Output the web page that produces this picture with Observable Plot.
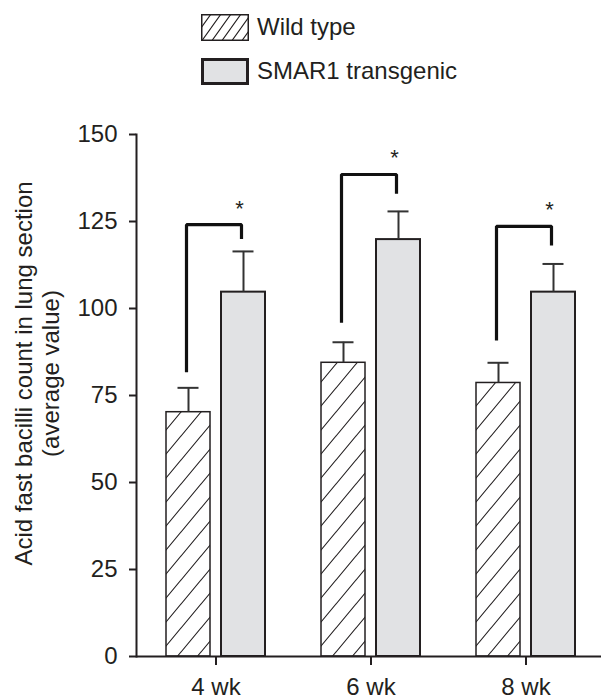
<!DOCTYPE html>
<html>
<head>
<meta charset="utf-8">
<script src="https://cdn.jsdelivr.net/npm/d3@7"></script>
<script src="https://cdn.jsdelivr.net/npm/@observablehq/plot@0.6"></script>
<style>
  html, body { margin: 0; padding: 0; background: #fff; }
  body { font-family: "Liberation Sans", Arial, sans-serif; color: #231f20; width: 602px; }
  #legend { position: relative; width: 602px; height: 100px; }
  .item { position: absolute; display: flex; align-items: center; font-size: 24px; white-space: nowrap; }
  .item svg { display: block; margin-right: 8px; }
  #chart svg { display: block; }
</style>
</head>
<body>
<svg width="0" height="0" style="position:absolute">
  <defs>
    <pattern id="hatch" patternUnits="userSpaceOnUse" width="20" height="24">
      <path d="M0,24 L20,0 M-2,2 L2,-2 M18,26 L22,22" stroke="#231f20" stroke-width="1.1" fill="none"/>
    </pattern>
    <pattern id="hatchSmall" patternUnits="userSpaceOnUse" width="10" height="14">
      <path d="M0,14 L10,0 M-2,2 L2,-2 M8,16 L12,12" stroke="#231f20" stroke-width="1.1" fill="none"/>
    </pattern>
  </defs>
</svg>
<div id="legend"></div>
<div id="chart"></div>
<script>
// ---- data ----
const groups = ["4 wk", "6 wk", "8 wk"];
const series = ["Wild type", "SMAR1 transgenic"];
const wildTypeMean = [70.2, 84.4, 78.6];
const wildTypeErr = [7.0, 5.9, 5.8];
const smar1Mean = [104.7, 119.8, 104.7];
const smar1Err = [11.7, 8.1, 8.1];
const bracketLeftY = [81.7, 95.9, 90.8];
const bracketTopY = [124.1, 138.5, 123.6];
const bracketRightY = [120.0, 133.0, 118.1];
const starY = [130.2, 144.9, 130.1];
const starText = ["*", "*", "*"];
const yTicks = [0, 25, 50, 75, 100, 125, 150];
const yLabel = ["Acid fast bacilli count in lung section", "(average value)"];

// ---- styles ----
const ink = "#231f20";
const seriesFill = ["url(#hatch)", "#e1e2e4"];
const legendFill = ["url(#hatchSmall)", "#e1e2e4"];
const legendStroke = [1.5, 3];

// ---- legend ----
const legend = document.getElementById("legend");
const legendPos = [{left: 201, top: 13}, {left: 201, top: 57}];
series.forEach((s, i) => {
  const item = document.createElement("div");
  item.className = "item";
  item.style.left = legendPos[i].left + "px";
  item.style.top = legendPos[i].top + "px";
  const sw = legendStroke[i];
  item.innerHTML = `<svg width="48" height="27"><rect x="${sw/2}" y="${sw/2}" width="${48 - sw}" height="${27 - sw}" fill="${legendFill[i]}" stroke="${ink}" stroke-width="${sw}"/></svg><span>${s}</span>`;
  legend.appendChild(item);
});

// ---- tables ----
const bars = groups.flatMap((g, i) => [
  {group: g, series: series[0], value: wildTypeMean[i], err: wildTypeErr[i]},
  {group: g, series: series[1], value: smar1Mean[i], err: smar1Err[i]}
]);
const brackets = groups.flatMap((g, i) => [
  {group: g, series: series[0], y: bracketLeftY[i]},
  {group: g, series: series[0], y: bracketTopY[i]},
  {group: g, series: series[1], y: bracketTopY[i]},
  {group: g, series: series[1], y: bracketRightY[i]}
]);
const stars = groups.map((g, i) => ({group: g, series: series[1], y: starY[i], text: starText[i]}));

const chart = Plot.plot({
  width: 602,
  height: 598,
  marginLeft: 135,
  marginRight: 0,
  marginTop: 34,
  marginBottom: 42,
  style: {fontFamily: "Liberation Sans, Arial, sans-serif", fontSize: "24px", color: ink, background: "white", overflow: "visible"},
  fx: {domain: groups, padding: 0, label: null},
  x: {domain: series, paddingInner: 0.2, paddingOuter: 0.5, align: 0.54, axis: null},
  y: {domain: [0, 150], label: null},
  marks: [
    Plot.barY(bars.filter(d => d.series === series[0]), {fx: "group", x: "series", y: "value", fill: seriesFill[0], stroke: ink, strokeWidth: 1.5}),
    Plot.barY(bars.filter(d => d.series === series[1]), {fx: "group", x: "series", y: "value", fill: seriesFill[1], stroke: ink, strokeWidth: 2}),
    Plot.ruleX(bars, {fx: "group", x: "series", y1: "value", y2: d => d.value + d.err, stroke: "#333", strokeWidth: 2}),
    Plot.tickY(bars, {fx: "group", x: "series", y: d => d.value + d.err, stroke: "#333", strokeWidth: 2, insetLeft: 11.5, insetRight: 11.5}),
    Plot.line(brackets, {fx: "group", x: "series", y: "y", z: "group", stroke: "#111", strokeWidth: 3.2, strokeLinejoin: "miter", strokeLinecap: "butt", dx: -2}),
    Plot.text(stars, {fx: "group", x: "series", y: "y", text: "text", fontSize: 22, dx: -4, dy: 6, fill: ink}),
    Plot.ruleY([0], {stroke: ink, strokeWidth: 2}),
    Plot.frame({anchor: "left", facetAnchor: "left", stroke: ink, strokeWidth: 2}),
    Plot.axisY({ticks: yTicks, tickSize: 7, tickPadding: 12, strokeWidth: 2, label: null, fill: ink}),
    Plot.axisFx({anchor: "bottom", tickSize: 9, tickPadding: 12, strokeWidth: 2, label: null, dx: 2, fill: ink}),
    Plot.text([yLabel.join("\n")], {fx: () => groups[0], text: d => d, frameAnchor: "left", rotate: -90, lineAnchor: "bottom", textAnchor: "middle", lineHeight: 1.125, fontSize: 24, dx: -78, dy: -22, fill: ink})
  ]
});
document.getElementById("chart").appendChild(chart);
</script>
</body>
</html>
